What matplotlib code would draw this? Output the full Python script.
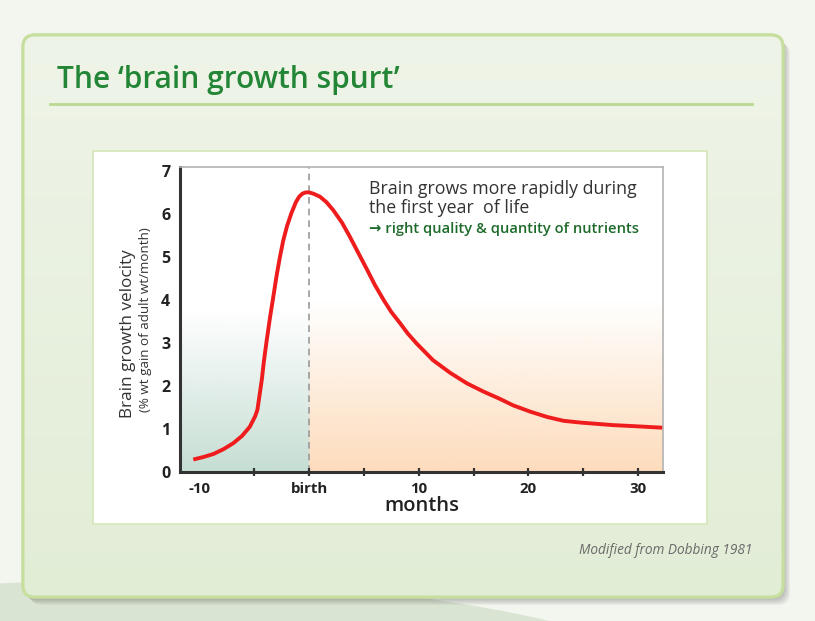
#大脑生长速度曲线
import numpy as np
import matplotlib
matplotlib.use('Agg')
import matplotlib.pyplot as plt
from matplotlib.patches import FancyBboxPatch, Rectangle, Ellipse
from matplotlib.colors import to_rgb

#数据: 月份与生长速度
months = [-10.55, -9.6, -8.7, -7.8, -6.9, -6.1, -5.4, -4.9, -4.7, -4.5, -4.3, -4.1,
          -3.85, -3.55, -3.25, -2.95, -2.65, -2.35, -2.0, -1.6, -1.2, -0.9, -0.6, -0.3,
          0.0, 0.4, 1.0, 1.6, 2.2, 3.0, 3.7, 4.5, 5.3, 6.0, 6.8, 7.5, 8.3, 9.0, 9.8,
          11.3, 12.9, 14.4, 15.9, 17.4, 18.6, 20.2, 21.7, 23.2, 24.7, 26.2, 27.7, 29.3, 32.2]
velocity = [0.29, 0.35, 0.42, 0.53, 0.67, 0.84, 1.05, 1.30, 1.45, 1.80, 2.15, 2.60,
            3.07, 3.60, 4.08, 4.57, 5.00, 5.38, 5.72, 6.02, 6.27, 6.40, 6.47, 6.50,
            6.50, 6.47, 6.40, 6.27, 6.09, 5.80, 5.48, 5.09, 4.70, 4.35, 4.00, 3.72,
            3.46, 3.22, 2.99, 2.60, 2.30, 2.06, 1.87, 1.70, 1.55, 1.40, 1.28, 1.19,
            1.15, 1.12, 1.09, 1.07, 1.03]
x_labels = ['-10', 'birth', '10', '20', '30']
x_label_pos = [-10, 0, 10, 20, 30]
x_tick_marks = [-5, 0, 5, 10, 15, 20, 25, 30]
y_ticks = [0, 1, 2, 3, 4, 5, 6, 7]

W, H = 815, 621
fig = plt.figure(figsize=(W / 100, H / 100), dpi=100)
fig.patch.set_facecolor('#f3f6ef')

#背景层, 像素坐标
bg = fig.add_axes([0, 0, 1, 1])
bg.set_xlim(0, W)
bg.set_ylim(H, 0)
bg.axis('off')

#底部弧形
bg.add_patch(Ellipse((130, 710), 1150, 260, facecolor='#d9e4d2', edgecolor='none', zorder=0))

#面板阴影
for i in range(7):
    bg.add_patch(FancyBboxPatch((24 + i, 37 + i), 760, 562, boxstyle='round,pad=0,rounding_size=12',
                                facecolor='#555555', edgecolor='none', alpha=0.06, zorder=1))

#面板
panel = FancyBboxPatch((23, 35), 760, 562, boxstyle='round,pad=0,rounding_size=12',
                       facecolor='#edf3e4', edgecolor='#c6df9f', linewidth=2.2, zorder=2)
bg.add_patch(panel)
c1 = np.array(to_rgb('#eff4e8'))
c2 = np.array(to_rgb('#e2edd6'))
t = np.linspace(0, 1, 200)[:, None, None]
grad = c1 * (1 - t) + c2 * t
im = bg.imshow(grad, extent=[23, 783, 597, 35], aspect='auto', zorder=2.5)
im.set_clip_path(panel)
bg.add_patch(FancyBboxPatch((23, 35), 760, 562, boxstyle='round,pad=0,rounding_size=12',
                            facecolor='none', edgecolor='#c6df9f', linewidth=2.2, zorder=3))

#标题
bg.text(57, 80, 'The \u2018brain growth spurt\u2019', fontsize=21.5, weight='semibold',
        family='Open Sans', color='#228636', va='center', ha='left', zorder=4)
bg.plot([50, 752], [103.5, 103.5], color='#b9d993', lw=2, zorder=4)

#图框
bg.add_patch(Rectangle((93, 151), 614, 373, facecolor='white', edgecolor='#d4e7bb', linewidth=1.2, zorder=4))

bg.text(752, 550, 'Modified from Dobbing 1981', fontsize=9.8, style='italic', family='Open Sans',
        color='#6a6a6a', ha='right', va='center', zorder=4)

#主图
ax = fig.add_axes([180 / W, 1 - 472 / H, 483 / W, 305 / H])
ax.set_facecolor('none')
xmin, xmax = -11.76, 32.27

#渐变底色
n = 100
alpha = np.linspace(1, 0, n)[:, None]
left_c = np.zeros((n, 1, 4))
left_c[..., :3] = to_rgb('#c6ded4')
left_c[..., 3] = alpha
right_c = np.zeros((n, 1, 4))
right_c[..., :3] = to_rgb('#fddcbc')
right_c[..., 3] = alpha
ax.imshow(left_c, extent=[xmin, 0, 0, 3.8], aspect='auto', origin='lower', zorder=0)
ax.imshow(right_c, extent=[0, xmax, 0, 4.0], aspect='auto', origin='lower', zorder=0)
ax.set_xlim(xmin, xmax)
ax.set_ylim(0, 7.09)

ax.axvline(0, color='#9a9a9a', lw=1.2, dashes=(4, 3), zorder=1)
ax.plot(months, velocity, color='#ee1c1c', lw=2.8, solid_capstyle='butt', solid_joinstyle='round', zorder=3)

ax.text(5.5, 6.36, 'Brain grows more rapidly during\nthe first year  of life', fontsize=12.8,
        family='Open Sans', color='#333333', va='center', ha='left', linespacing=1.05)
ax.text(5.5, 5.64, '\u2192 right quality & quantity of nutrients', fontsize=10.6,
        family=['Open Sans', 'DejaVu Sans'], weight='semibold', color='#1d6b2b', va='center', ha='left')

#坐标轴
for s in ['left', 'bottom']:
    ax.spines[s].set_color('#333333')
    ax.spines[s].set_linewidth(2.2)
for s in ['top', 'right']:
    ax.spines[s].set_color('#b3b3b3')
    ax.spines[s].set_linewidth(1.2)

ax.set_yticks(y_ticks)
ax.set_yticklabels([str(v) for v in y_ticks], fontsize=11.5, weight='bold', family='Open Sans')
ax.tick_params(axis='y', length=0, pad=7, colors='#222222')

ax.set_xticks(x_label_pos)
ax.set_xticklabels(x_labels, fontsize=10.8, weight='bold', family='Open Sans')
ax.set_xticks(x_tick_marks, minor=True)
ax.xaxis.remove_overlapping_locs = False
ax.tick_params(axis='x', which='major', length=0, pad=7, colors='#222222')
ax.tick_params(axis='x', which='minor', length=6, width=1.6, direction='inout', color='#333333')

ax.set_xlabel('months', fontsize=14.5, weight='semibold', family='Open Sans', color='#222222', labelpad=0)

fig.text(128 / W, 1 - 334 / H, 'Brain growth velocity', rotation=90, fontsize=12.3, family='Open Sans',
         color='#333333', ha='center', va='center')
fig.text(146 / W, 1 - 320 / H, '(% wt gain of adult wt/month)', rotation=90, fontsize=9.6,
         family='Open Sans', color='#333333', ha='center', va='center')

fig.savefig('out.png', dpi=100)
